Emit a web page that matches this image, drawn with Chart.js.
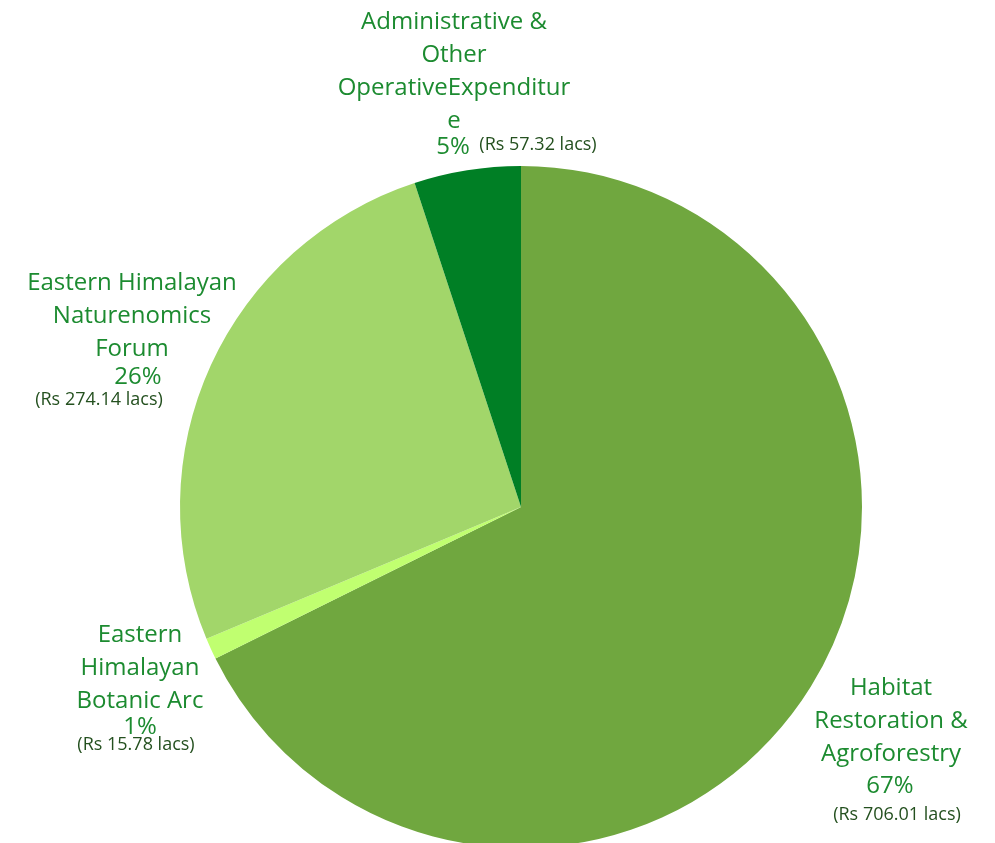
<!DOCTYPE html>
<html>
<head>
<meta charset="utf-8">
<script src="https://cdn.jsdelivr.net/npm/chart.js@4.4.1/dist/chart.umd.min.js"></script>
<style>
  html, body { margin: 0; padding: 0; background: #fff; overflow: hidden; }
  #wrap { width: 995px; height: 860px; }
</style>
</head>
<body>
<div id="wrap"><canvas id="pie"></canvas></div>
<script>
'use strict';

// ── Data ─────────────────────────────────────────────────────────────────────
const categories = [
  'Habitat Restoration & Agroforestry',
  'Eastern Himalayan Botanic Arc',
  'Eastern Himalayan Naturenomics Forum',
  'Administrative & Other OperativeExpenditure'
];
const shares = [67, 1, 26, 5];   // percent, as drawn in the slices
const amountLabels = ['(Rs 706.01 lacs)', '(Rs 15.78 lacs)', '(Rs 274.14 lacs)', '(Rs 57.32 lacs)'];
const nameLines = [
  ['Habitat', 'Restoration &', 'Agroforestry'],
  ['Eastern', 'Himalayan', 'Botanic Arc'],
  ['Eastern Himalayan', 'Naturenomics', 'Forum'],
  ['Administrative &', 'Other', 'OperativeExpenditur', 'e']
];
const sliceColors = ['#70a73f', '#c0ff70', '#a2d66a', '#007f25'];

// ── Label layout (text anchors, page px) ─────────────────────────────────────
const labelLayout = [
  { x: 891, y: 688, pct: [890, 786], amt: [897, 815] },
  { x: 140, y: 635, pct: [140, 727], amt: [136, 745] },
  { x: 132, y: 283, pct: [138, 377], amt: [99, 400] },
  { x: 454, y: 22,  pct: [453, 147], amt: [538, 145] }
];
const LINE_H = 33;
const NAME_COLOR = '#1c8b30';
const AMT_COLOR = '#24501f';

const labelPlugin = {
  id: 'outerLabels',
  afterDraw(chart) {
    const ctx = chart.ctx;
    ctx.save();
    ctx.textAlign = 'center';
    ctx.textBaseline = 'middle';
    nameLines.forEach((lines, i) => {
      const L = labelLayout[i];
      ctx.fillStyle = NAME_COLOR;
      ctx.font = '24px "Open Sans"';
      lines.forEach((t, j) => ctx.fillText(t, L.x, L.y + j * LINE_H));
      ctx.fillText(shares[i] + '%', L.pct[0], L.pct[1]);
      ctx.fillStyle = AMT_COLOR;
      ctx.font = '18px "Open Sans"';
      ctx.fillText(amountLabels[i], L.amt[0], L.amt[1]);
    });
    ctx.restore();
  }
};

new Chart(document.getElementById('pie'), {
  type: 'pie',
  data: {
    labels: categories,
    datasets: [{ data: shares, backgroundColor: sliceColors, borderWidth: 0 }]
  },
  options: {
    responsive: true, maintainAspectRatio: false,
    animation: false,
    layout: { padding: { top: 166, bottom: 12, left: 180, right: 133 } },
    plugins: { legend: { display: false }, tooltip: { enabled: false } }
  },
  plugins: [labelPlugin]
});
</script>
</body>
</html>
